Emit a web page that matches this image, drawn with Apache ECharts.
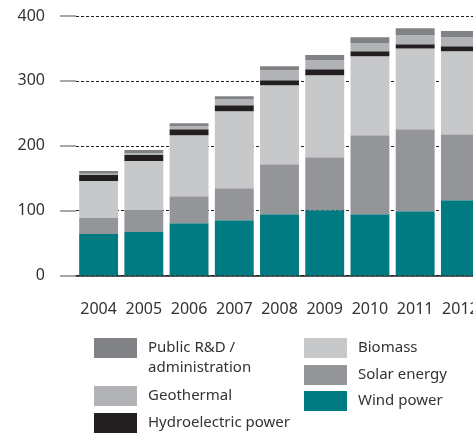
<!DOCTYPE html>
<html>
<head>
<meta charset="utf-8">
<script src="https://cdn.jsdelivr.net/npm/echarts@6/dist/echarts.min.js"></script>
<style>
  html, body { margin: 0; padding: 0; background: #fff; }
  #echart { width: 473px; height: 434px; }
</style>
</head>
<body>
<div id="echart"></div>
<script>
var years = ['2004', '2005', '2006', '2007', '2008', '2009', '2010', '2011', '2012'];
var yTicks = [0, 100, 200, 300, 400];

var wind       = [64, 67, 80.7, 85.3, 94.6, 100.7, 94.6, 99.2, 116.1];
var solar      = [24.7, 34, 41.6, 49.3, 77, 81.7, 121.7, 126.4, 101.8];
var biomass    = [57, 75.6, 94, 118.7, 121.8, 126.4, 121.8, 124.4, 127.9];
var hydro      = [9.3, 9.2, 9.3, 9.3, 7.7, 9.3, 7.7, 6.6, 7.7];
var geothermal = [2, 3.1, 4.6, 9.2, 15.4, 13.9, 12.4, 13.9, 13.9];
var publicRD   = [4.1, 4.6, 4.6, 4.6, 6.2, 7.7, 9.2, 10.8, 9.3];

var FONT = '"Noto Sans", sans-serif';
var TXT = '#333333';

function bar(name, data, color){
	return {
		name: name,
		type: 'bar',
		stack: 'total',
		data: data,
		barCategoryGap: '14%',
		itemStyle: { color: color },
		emphasis: { disabled: true }
	};
}

function legendItem(name, left, top){
	return {
		data: [name],
		left: left,
		top: top,
		padding: 0,
		orient: 'vertical',
		icon: 'rect',
		itemWidth: 43,
		itemHeight: 20,
		selectedMode: false,
		textStyle: { fontFamily: FONT, fontSize: 15, color: TXT, padding: [0, 0, 0, 6] }
	};
}

var echart = echarts.init(document.getElementById('echart'));
echart.setOption({
	animation: false,
	grid: { left: 76, right: -10, top: 16, bottom: 158.5, containLabel: false, outerBoundsMode: 'none' },
	xAxis: {
		type: 'category',
		data: years,
		axisLine: { lineStyle: { color: '#231f20', width: 1.5 } },
		axisTick: { length: 14, lineStyle: { color: '#4d4d4d', width: 1.5 } },
		axisLabel: { interval: 0, margin: 26, fontFamily: FONT, fontSize: 16, color: TXT }
	},
	yAxis: {
		type: 'value',
		min: yTicks[0],
		max: yTicks[yTicks.length - 1],
		interval: 100,
		axisLine: { show: false },
		axisTick: { show: true, length: 16, lineStyle: { color: '#8a8a8a', width: 1.5 } },
		axisLabel: { margin: 31, fontFamily: FONT, fontSize: 16, color: TXT },
		splitLine: { lineStyle: { color: '#231f20', width: 1, type: [3, 2] } }
	},
	legend: [
		legendItem('Public R&D /', 94, 338),
		legendItem('Geothermal', 94, 386),
		legendItem('Hydroelectric power', 94, 413),
		legendItem('Biomass', 304, 338),
		legendItem('Solar energy', 304, 365),
		legendItem('Wind power', 304, 391)
	],
	graphic: [{
		type: 'text',
		left: 148,
		top: 360,
		style: { text: 'administration', fontFamily: FONT, fontSize: 15, fill: TXT }
	}],
	series: [
		bar('Wind power', wind, '#007b82'),
		bar('Solar energy', solar, '#949598'),
		bar('Biomass', biomass, '#c7c8ca'),
		bar('Hydroelectric power', hydro, '#231f20'),
		bar('Geothermal', geothermal, '#b1b3b6'),
		bar('Public R&D /', publicRD, '#808285')
	]
});
</script>
</body>
</html>
